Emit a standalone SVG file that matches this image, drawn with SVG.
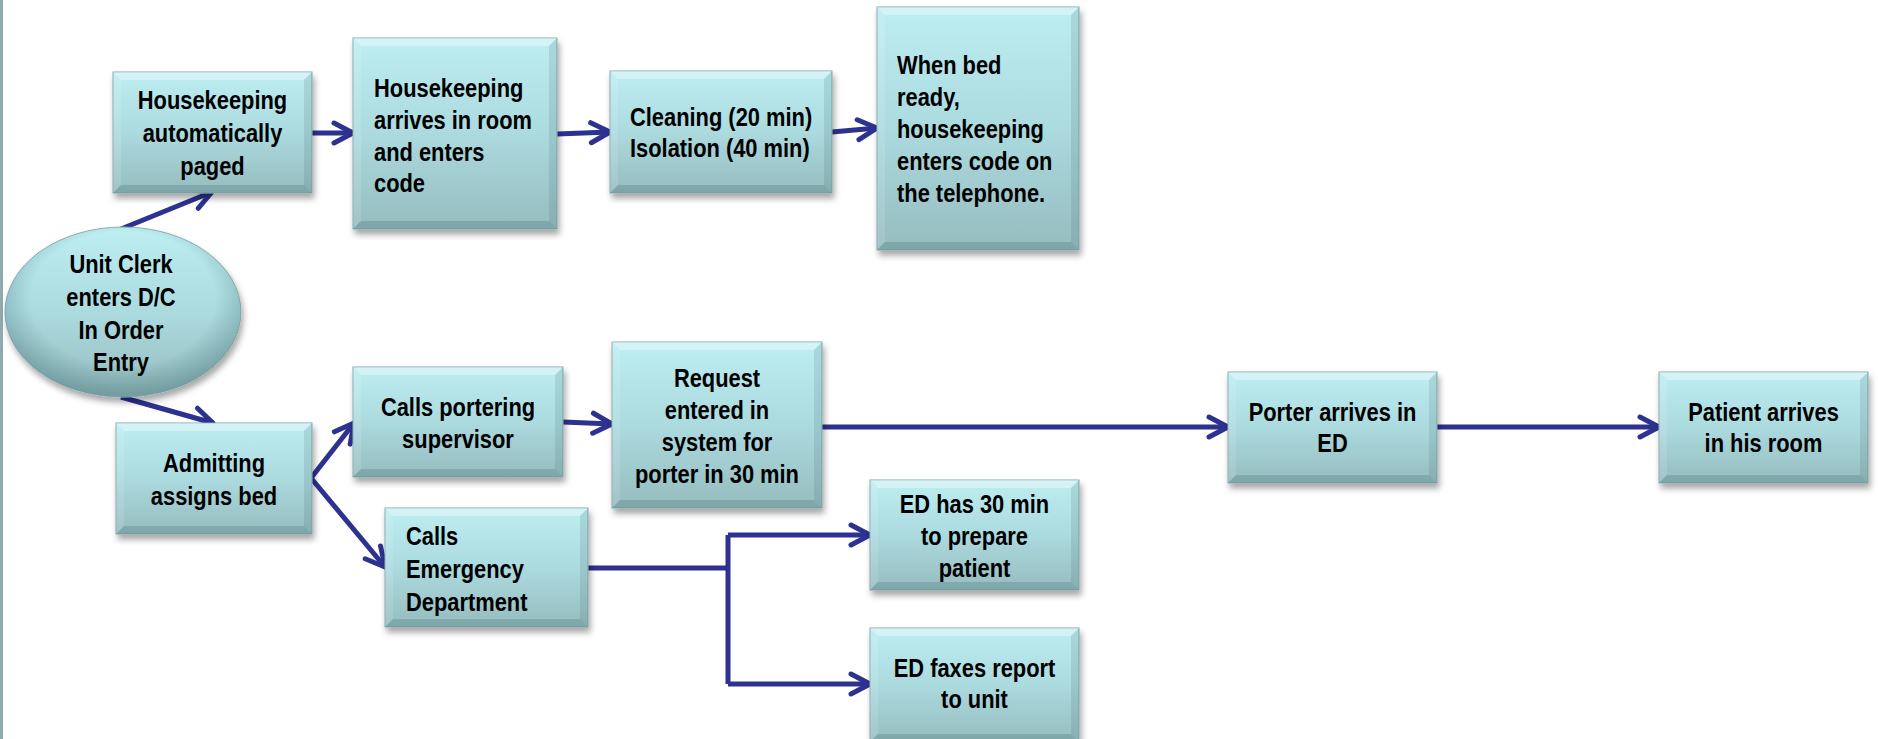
<svg xmlns="http://www.w3.org/2000/svg" width="1878" height="739" viewBox="0 0 1878 739">
<defs>
  <linearGradient id="gBox" x1="0" y1="0" x2="0" y2="1">
    <stop offset="0" stop-color="#bdeef2"/>
    <stop offset="0.5" stop-color="#abdadf"/>
    <stop offset="1" stop-color="#96bcbf"/>
  </linearGradient>
  <radialGradient id="gRim" cx="0.5" cy="0.42" r="0.56">
    <stop offset="0.7" stop-color="#3f6e73" stop-opacity="0"/>
    <stop offset="1" stop-color="#3f6e73" stop-opacity="0.4"/>
  </radialGradient>
  <filter id="sh" x="-10%" y="-10%" width="125%" height="135%">
    <feDropShadow dx="2" dy="5" stdDeviation="3" flood-color="#000" flood-opacity="0.35"/>
  </filter>
  <marker id="arr" markerUnits="userSpaceOnUse" viewBox="-24 -14 28 28" markerWidth="28" markerHeight="28" refX="0" refY="0" orient="auto">
    <path d="M-19,-10 L0,0 L-19,10" fill="none" stroke="#2d3190" stroke-width="5" stroke-linecap="round" stroke-linejoin="round"/>
  </marker>
</defs>
<style>
  .box { fill:url(#gBox); stroke:#86a8ab; stroke-width:1; filter:url(#sh); }
  .bt { fill:#ffffff; fill-opacity:0.35; }
  .bl { fill:#ffffff; fill-opacity:0.12; }
  .br { fill:#2f5a5f; fill-opacity:0.14; }
  .bb { fill:#2f5a5f; fill-opacity:0.22; }
  .t { font-family:"Liberation Sans", Arial, sans-serif; font-weight:bold; font-size:25px; fill:#000; }
  .c { text-anchor:middle; }
  .ln { fill:none; stroke:#2d3190; stroke-width:5; marker-end:url(#arr); }
  .ln2 { fill:none; stroke:#2d3190; stroke-width:5; }
</style>
<rect x="0" y="0" width="1878" height="739" fill="#ffffff"/>
<rect x="0" y="0" width="3" height="739" fill="#8fabae"/>

<g id="connectors">
  <path class="ln" d="M121,229 L212,192"/>
  <path class="ln" d="M312,133 L353,133"/>
  <path class="ln" d="M557,134 L610,132"/>
  <path class="ln" d="M832,132 L877,128"/>
  <path class="ln" d="M121,397 L213,423"/>
  <path class="ln" d="M311,478 L354,423"/>
  <path class="ln" d="M311,478 L385,567"/>
  <path class="ln" d="M563,422 L612,424"/>
  <path class="ln" d="M822,427 L1228,427"/>
  <path class="ln" d="M1437,427 L1659,427"/>
  <path class="ln2" d="M588,568 L728,568"/>
  <path class="ln2" d="M728,535 L728,684"/>
  <path class="ln" d="M728,535 L870,535"/>
  <path class="ln" d="M728,684 L870,684"/>
</g>

<g id="hk-paged">
  <rect class="box" x="113" y="72" width="199" height="121"/>
  <polygon class="bt" points="113,72 312,72 304,80 121,80"/>
  <polygon class="bl" points="113,72 121,80 121,185 113,193"/>
  <polygon class="br" points="312,72 312,193 304,185 304,80"/>
  <polygon class="bb" points="113,193 312,193 304,185 121,185"/>
  <g transform="translate(212.5,0) scale(0.875,1)"><text class="t c"><tspan x="0" y="109">Housekeeping</tspan><tspan x="0" y="142">automatically</tspan><tspan x="0" y="175">paged</tspan></text></g>
</g>

<g id="hk-arrives">
  <rect class="box" x="353" y="38" width="204" height="191"/>
  <polygon class="bt" points="353,38 557,38 549,46 361,46"/>
  <polygon class="bl" points="353,38 361,46 361,221 353,229"/>
  <polygon class="br" points="557,38 557,229 549,221 549,46"/>
  <polygon class="bb" points="353,229 557,229 549,221 361,221"/>
  <g transform="translate(374,0) scale(0.875,1)"><text class="t"><tspan x="0" y="97">Housekeeping</tspan><tspan x="0" y="129">arrives in room</tspan><tspan x="0" y="161">and enters</tspan><tspan x="0" y="192">code</tspan></text></g>
</g>

<g id="cleaning">
  <rect class="box" x="610" y="71" width="222" height="122"/>
  <polygon class="bt" points="610,71 832,71 824,79 618,79"/>
  <polygon class="bl" points="610,71 618,79 618,185 610,193"/>
  <polygon class="br" points="832,71 832,193 824,185 824,79"/>
  <polygon class="bb" points="610,193 832,193 824,185 618,185"/>
  <g transform="translate(630,0) scale(0.875,1)"><text class="t"><tspan x="0" y="126">Cleaning (20 min)</tspan><tspan x="0" y="157">Isolation (40 min)</tspan></text></g>
</g>

<g id="bed-ready">
  <rect class="box" x="877" y="7" width="202" height="243"/>
  <polygon class="bt" points="877,7 1079,7 1071,15 885,15"/>
  <polygon class="bl" points="877,7 885,15 885,242 877,250"/>
  <polygon class="br" points="1079,7 1079,250 1071,242 1071,15"/>
  <polygon class="bb" points="877,250 1079,250 1071,242 885,242"/>
  <g transform="translate(897,0) scale(0.875,1)"><text class="t"><tspan x="0" y="74">When bed</tspan><tspan x="0" y="106">ready,</tspan><tspan x="0" y="138">housekeeping</tspan><tspan x="0" y="170">enters code on</tspan><tspan x="0" y="202">the telephone.</tspan></text></g>
</g>

<g id="unit-clerk">
  <ellipse cx="123" cy="312" rx="118" ry="85" fill="url(#gBox)" stroke="#8fb0b3" stroke-width="1" filter="url(#sh)"/>
  <ellipse cx="123" cy="312" rx="118" ry="85" fill="url(#gRim)"/>
  <g transform="translate(121,0) scale(0.875,1)"><text class="t c"><tspan x="0" y="273">Unit Clerk</tspan><tspan x="0" y="306">enters D/C</tspan><tspan x="0" y="339">In Order</tspan><tspan x="0" y="371">Entry</tspan></text></g>
</g>

<g id="admitting">
  <rect class="box" x="116" y="423" width="196" height="111"/>
  <polygon class="bt" points="116,423 312,423 304,431 124,431"/>
  <polygon class="bl" points="116,423 124,431 124,526 116,534"/>
  <polygon class="br" points="312,423 312,534 304,526 304,431"/>
  <polygon class="bb" points="116,534 312,534 304,526 124,526"/>
  <g transform="translate(214,0) scale(0.875,1)"><text class="t c"><tspan x="0" y="472">Admitting</tspan><tspan x="0" y="505">assigns bed</tspan></text></g>
</g>

<g id="portering">
  <rect class="box" x="353" y="367" width="210" height="110"/>
  <polygon class="bt" points="353,367 563,367 555,375 361,375"/>
  <polygon class="bl" points="353,367 361,375 361,469 353,477"/>
  <polygon class="br" points="563,367 563,477 555,469 555,375"/>
  <polygon class="bb" points="353,477 563,477 555,469 361,469"/>
  <g transform="translate(458,0) scale(0.875,1)"><text class="t c"><tspan x="0" y="416">Calls portering</tspan><tspan x="0" y="448">supervisor</tspan></text></g>
</g>

<g id="request">
  <rect class="box" x="612" y="342" width="210" height="166"/>
  <polygon class="bt" points="612,342 822,342 814,350 620,350"/>
  <polygon class="bl" points="612,342 620,350 620,500 612,508"/>
  <polygon class="br" points="822,342 822,508 814,500 814,350"/>
  <polygon class="bb" points="612,508 822,508 814,500 620,500"/>
  <g transform="translate(717,0) scale(0.875,1)"><text class="t c"><tspan x="0" y="387">Request</tspan><tspan x="0" y="419">entered in</tspan><tspan x="0" y="451">system for</tspan><tspan x="0" y="483">porter in 30 min</tspan></text></g>
</g>

<g id="calls-ed">
  <rect class="box" x="385" y="508" width="203" height="119"/>
  <polygon class="bt" points="385,508 588,508 580,516 393,516"/>
  <polygon class="bl" points="385,508 393,516 393,619 385,627"/>
  <polygon class="br" points="588,508 588,627 580,619 580,516"/>
  <polygon class="bb" points="385,627 588,627 580,619 393,619"/>
  <g transform="translate(406,0) scale(0.875,1)"><text class="t"><tspan x="0" y="545">Calls</tspan><tspan x="0" y="578">Emergency</tspan><tspan x="0" y="611">Department</tspan></text></g>
</g>

<g id="ed-30">
  <rect class="box" x="870" y="480" width="209" height="110"/>
  <polygon class="bt" points="870,480 1079,480 1071,488 878,488"/>
  <polygon class="bl" points="870,480 878,488 878,582 870,590"/>
  <polygon class="br" points="1079,480 1079,590 1071,582 1071,488"/>
  <polygon class="bb" points="870,590 1079,590 1071,582 878,582"/>
  <g transform="translate(974.5,0) scale(0.875,1)"><text class="t c"><tspan x="0" y="513">ED has 30 min</tspan><tspan x="0" y="545">to prepare</tspan><tspan x="0" y="577">patient</tspan></text></g>
</g>

<g id="ed-fax">
  <rect class="box" x="870" y="628" width="209" height="114"/>
  <polygon class="bt" points="870,628 1079,628 1071,636 878,636"/>
  <polygon class="bl" points="870,628 878,636 878,734 870,742"/>
  <polygon class="br" points="1079,628 1079,742 1071,734 1071,636"/>
  <polygon class="bb" points="870,742 1079,742 1071,734 878,734"/>
  <g transform="translate(974.5,0) scale(0.875,1)"><text class="t c"><tspan x="0" y="677">ED faxes report</tspan><tspan x="0" y="708">to unit</tspan></text></g>
</g>

<g id="porter">
  <rect class="box" x="1228" y="372" width="209" height="111"/>
  <polygon class="bt" points="1228,372 1437,372 1429,380 1236,380"/>
  <polygon class="bl" points="1228,372 1236,380 1236,475 1228,483"/>
  <polygon class="br" points="1437,372 1437,483 1429,475 1429,380"/>
  <polygon class="bb" points="1228,483 1437,483 1429,475 1236,475"/>
  <g transform="translate(1332.5,0) scale(0.875,1)"><text class="t c"><tspan x="0" y="421">Porter arrives in</tspan><tspan x="0" y="452">ED</tspan></text></g>
</g>

<g id="patient">
  <rect class="box" x="1659" y="372" width="209" height="111"/>
  <polygon class="bt" points="1659,372 1868,372 1860,380 1667,380"/>
  <polygon class="bl" points="1659,372 1667,380 1667,475 1659,483"/>
  <polygon class="br" points="1868,372 1868,483 1860,475 1860,380"/>
  <polygon class="bb" points="1659,483 1868,483 1860,475 1667,475"/>
  <g transform="translate(1763.5,0) scale(0.875,1)"><text class="t c"><tspan x="0" y="421">Patient arrives</tspan><tspan x="0" y="452">in his room</tspan></text></g>
</g>
</svg>
